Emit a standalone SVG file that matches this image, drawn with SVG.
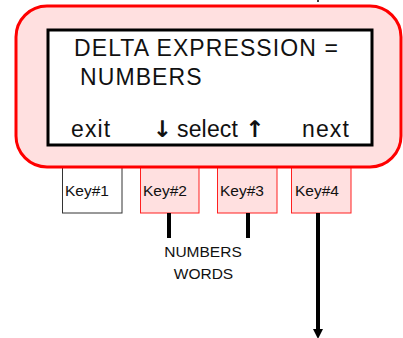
<svg xmlns="http://www.w3.org/2000/svg" width="403" height="338" viewBox="0 0 403 338">
<style>
.lcd{font-family:"Liberation Sans",Arial,sans-serif;font-size:23px;fill:#111;letter-spacing:1.1px}
.arr{font-family:"DejaVu Sans",sans-serif;font-weight:bold;font-size:23px;fill:#111;text-anchor:middle}
.key{font-family:"Liberation Sans",Arial,sans-serif;font-size:15.5px;fill:#111}
.lbl{font-family:"Liberation Sans",Arial,sans-serif;font-size:15.5px;fill:#111;text-anchor:middle}
.pink{fill:#ffe0e0;stroke:#ff2020;stroke-width:1}
.conn{stroke:#000;stroke-width:4;fill:none}
</style>
<defs>
<marker id="ah" markerWidth="10" markerHeight="10" refX="10" refY="5" orient="auto" markerUnits="userSpaceOnUse" viewBox="0 0 10 10">
<path d="M0,0 L10,5 L0,10 Z" fill="#000"/>
</marker>
</defs>
<g id="key1"><rect x="62.5" y="166" width="59.5" height="47" fill="#fff" stroke="#333" stroke-width="1"/><text class="key" x="65" y="196">Key#1</text></g>
<g id="key2"><rect class="pink" x="140.5" y="166" width="58.5" height="47"/><text class="key" x="143" y="196">Key#2</text></g>
<g id="key3"><rect class="pink" x="217.5" y="166" width="59.5" height="47"/><text class="key" x="220" y="196">Key#3</text></g>
<g id="key4"><rect class="pink" x="291.5" y="166" width="59.5" height="47"/><text class="key" x="295" y="196">Key#4</text></g>
<g id="display">
<rect x="16" y="6" width="385" height="161" rx="31" ry="31" fill="#ffe0e0" stroke="#ff0000" stroke-width="3"/>
<rect x="48" y="30" width="324" height="115" fill="#fff" stroke="#000" stroke-width="3"/>
<text class="lcd" x="74" y="56">DELTA EXPRESSION =</text>
<text class="lcd" x="80" y="85">NUMBERS</text>
<text class="lcd" x="71" y="137">exit</text>
<text class="arr" x="162.5" y="137">↓</text>
<text class="lcd" x="177" y="137" letter-spacing="0" textLength="62" lengthAdjust="spacing">select</text>
<text class="arr" x="255" y="137">↑</text>
<text class="lcd" x="302" y="137">next</text>
</g>
<g id="options"><text class="lbl" x="203" y="257">NUMBERS</text><text class="lbl" x="203.5" y="279">WORDS</text></g>
<g id="connectors">
<line class="conn" x1="169" y1="213" x2="169" y2="238"/>
<line class="conn" x1="248" y1="213" x2="248" y2="238"/>
<line class="conn" x1="318" y1="213" x2="318" y2="330"/>
<line x1="318" y1="328" x2="318" y2="339" stroke="none" marker-end="url(#ah)"/>
<line x1="318" y1="0" x2="318" y2="2" stroke="#000" stroke-width="1.5"/>
</g>
</svg>
